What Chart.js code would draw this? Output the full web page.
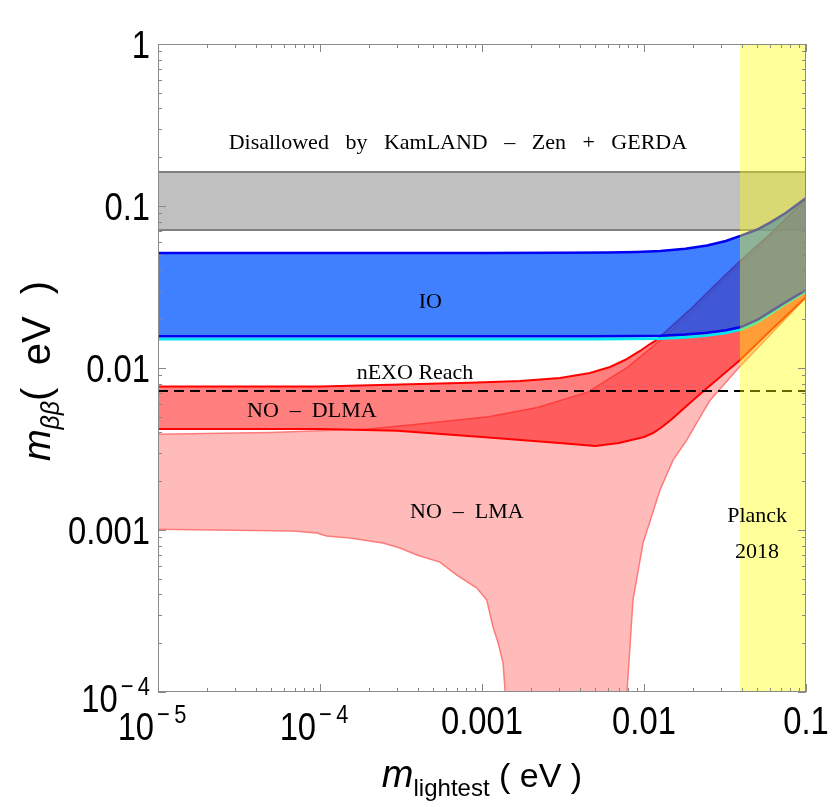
<!DOCTYPE html>
<html><head><meta charset="utf-8">
<script src="https://cdn.jsdelivr.net/npm/chart.js@4.4.1/dist/chart.umd.min.js"></script>
<style>html,body{margin:0;padding:0;background:#fff;}canvas{display:block}</style>
</head><body>
<canvas id="c" width="834" height="807"></canvas>
<script>
// ---------- tick labels ('^' marks a superscript) ----------
const xTickValues = [1e-5, 1e-4, 1e-3, 1e-2, 1e-1];
const xTickLabels = ['10^−\u20095', '10^−\u20094', '0.001', '0.01', '0.1'];
const yTickValues = [1e-4, 1e-3, 1e-2, 1e-1, 1];
const yTickLabels = ['10^−\u20094', '0.001', '0.01', '0.1', '1'];

// ---------- KamLAND-Zen + GERDA excluded band ----------
const kzX = [1e-5, 0.1];
const kzUpper = [0.162, 0.162];
const kzLower = [0.071, 0.071];

// ---------- Inverted ordering band ----------
const ioUpperX = [1e-5, 1e-4, 0.001, 0.003, 0.006, 0.009, 0.0126, 0.018, 0.0245, 0.032, 0.0397, 0.05, 0.06, 0.075, 0.1];
const ioUpperY = [0.0513, 0.0513, 0.0513, 0.0514, 0.0516, 0.052, 0.0527, 0.0545, 0.0571, 0.0608, 0.0656, 0.0716, 0.079, 0.0905, 0.112];
const ioLowerX = [1e-5, 1e-4, 0.001, 0.005, 0.0126, 0.018, 0.0245, 0.032, 0.0397, 0.05, 0.06, 0.075, 0.1];
const ioLowerY = [0.0157, 0.0157, 0.0157, 0.0157, 0.0158, 0.0161, 0.0165, 0.0171, 0.0179, 0.0198, 0.0222, 0.0255, 0.0303];
const ioCyanY  = [0.0151, 0.0151, 0.0151, 0.0151, 0.0152, 0.0155, 0.0159, 0.0165, 0.0173, 0.0192, 0.0216, 0.0250, 0.0298];

// ---------- Normal ordering, dark-LMA ----------
const dlmaUpperX = [1e-5, 1e-4, 0.00084, 0.00172, 0.00303, 0.00464, 0.00617, 0.00763, 0.00945, 0.01089, 0.012, 0.02, 0.03, 0.039, 0.06, 0.1];
const dlmaUpperY = [0.0077, 0.0077, 0.0081, 0.00832, 0.00867, 0.00931, 0.01014, 0.0112, 0.01274, 0.01406, 0.0149, 0.0237, 0.0353, 0.0454, 0.0667, 0.11];
const dlmaLowerX = [1e-5, 1e-4, 3e-4, 0.001, 0.003, 0.005, 0.007, 0.01, 0.01137, 0.01291, 0.01489, 0.0169, 0.0192, 0.0222, 0.0295, 0.0392, 0.06, 0.1];
const dlmaLowerY = [0.0042, 0.0042, 0.0041, 0.00375, 0.00344, 0.0033, 0.00344, 0.00375, 0.00397, 0.00432, 0.00484, 0.00543, 0.00608, 0.00691, 0.00879, 0.0112, 0.0169, 0.0274];

// ---------- Normal ordering, LMA ----------
const lmaUpperX = [1e-5, 5e-5, 1e-4, 2e-4, 4e-4, 0.0011, 0.0022, 0.0045, 0.0079, 0.0131, 0.02, 0.03, 0.039, 0.06, 0.1];
const lmaUpperY = [0.0039, 0.0040, 0.0041, 0.0042, 0.0045, 0.0050, 0.0057, 0.0071, 0.0101, 0.0153, 0.0225, 0.0337, 0.0432, 0.064, 0.101];
const lmaLowerX = [1e-5, 6.8e-5, 9.6e-5, 1.1e-4, 1.53e-4, 2.45e-4, 3.12e-4, 3.97e-4, 5.5e-4, 7.0e-4, 9.3e-4, 1.07e-3, 1.17e-3, 1.26e-3, 1.35e-3, 1.39e-3, 1.42e-3, 7.75e-3, 7.85e-3, 8.55e-3, 9.86e-3, 0.01256, 0.0151, 0.0184, 0.0222, 0.0255, 0.039, 0.06, 0.1];
const lmaLowerY = [0.00101, 0.000986, 0.000957, 0.000918, 0.000893, 0.000832, 0.000774, 0.000701, 0.000634, 0.000527, 0.000438, 0.00037, 0.000252, 0.0002, 0.000151, 0.0001, 1e-6, 1e-6, 0.0001, 0.00037, 0.00083, 0.00177, 0.0027, 0.0036, 0.005, 0.0063, 0.0102, 0.016, 0.0274];

// ---------- nEXO reach ----------
const nexoX = [1e-5, 0.1];
const nexoY = [0.0072, 0.0072];

// ---------- Planck 2018 ----------
const planckX = [0.039, 0.1];
const planckTop = [1, 1];
const planckBottom = [1e-4, 1e-4];

const pts = (xs, ys) => xs.map((v, i) => ({x: v, y: ys[i]}));

const base = {pointRadius: 0, pointHoverRadius: 0, tension: 0, borderWidth: 0, fill: false};

const datasets = [
  {...base, label: 'KZ upper', data: pts(kzX, kzUpper), borderColor: '#808080', borderWidth: 2, fill: 1, backgroundColor: '#c0c0c0', order: 20},
  {...base, label: 'KZ lower', data: pts(kzX, kzLower), borderColor: '#808080', borderWidth: 2, order: 19},
  {...base, label: 'LMA upper', data: pts(lmaUpperX, lmaUpperY), borderColor: '#ff7a7a', borderWidth: 1.5, fill: 3, backgroundColor: 'rgba(255,0,0,0.27)', order: 18},
  {...base, label: 'LMA lower', data: pts(lmaLowerX, lmaLowerY), borderColor: '#ff7a7a', borderWidth: 1.5, order: 17},
  {...base, label: 'DLMA upper', data: pts(dlmaUpperX, dlmaUpperY), borderColor: '#ff0000', borderWidth: 2, fill: 5, backgroundColor: 'rgba(255,0,0,0.5)', order: 16},
  {...base, label: 'DLMA lower', data: pts(dlmaLowerX, dlmaLowerY), borderColor: '#ff0000', borderWidth: 2, order: 15},
  {...base, label: 'nEXO', data: pts(nexoX, nexoY), borderColor: '#000000', borderWidth: 2, borderDash: [10, 6], order: 14},
  {...base, label: 'IO cyan', data: pts(ioLowerX, ioCyanY), borderColor: '#00e8f0', borderWidth: 3, order: 13},
  {...base, label: 'IO upper', data: pts(ioUpperX, ioUpperY), borderColor: '#0000f0', borderWidth: 2.5, fill: 9, backgroundColor: 'rgba(0,86,255,0.75)', order: 12},
  {...base, label: 'IO lower', data: pts(ioLowerX, ioLowerY), borderColor: '#0000f0', borderWidth: 2.5, order: 11},
  {...base, label: 'Planck top', data: pts(planckX, planckTop), borderColor: 'rgba(0,0,0,0)', fill: 11, backgroundColor: 'rgba(255,255,0,0.4)', order: 10},
  {...base, label: 'Planck bottom', data: pts(planckX, planckBottom), borderColor: 'rgba(0,0,0,0)', order: 9}
];

const textLabels = [
  {t: 'Disallowed   by   KamLAND   –   Zen   +   GERDA', x: 7.1e-4, y: 0.245},
  {t: 'IO', x: 4.8e-4, y: 0.0255},
  {t: 'nEXO Reach', x: 3.86e-4, y: 0.0093},
  {t: 'NO  –  DLMA', x: 8.9e-5, y: 0.00543},
  {t: 'NO  –  LMA', x: 8.07e-4, y: 0.00129},
  {t: 'Planck', x: 0.0499, y: 0.00122},
  {t: '2018', x: 0.0499, y: 0.00073}
];

const HS = 0.84; // horizontal squeeze of tick-label glyphs
const TF = '"Liberation Sans"';

function drawTickLabel(ctx, label, px, baseline, align) {
  const [b, e] = label.split('^');
  ctx.font = '39px ' + TF;
  const wb = ctx.measureText(b).width * HS;
  let we = 0;
  if (e) { ctx.font = '26px ' + TF; we = ctx.measureText(e).width * HS + 3; }
  const total = wb + we;
  let x0 = align === 'center' ? px - total / 2 - (e ? 6 : 0) : px - total;
  ctx.save();
  ctx.translate(x0, baseline + (e ? 6 : 0));
  ctx.scale(HS, 1);
  ctx.font = '39px ' + TF;
  ctx.fillText(b, 0, 0);
  if (e) { ctx.font = '26px ' + TF; ctx.fillText(e, (wb + 3) / HS, -17); }
  ctx.restore();
}

const decor = {
  id: 'decor',
  afterDatasetsDraw(chart) {
    const {ctx, chartArea: a, scales: {x, y}} = chart;
    ctx.save();
    // in-plot ticks
    ctx.strokeStyle = '#888';
    ctx.lineWidth = 1;
    ctx.beginPath();
    for (let e = -5; e <= 0; e++) {
      for (let k = 1; k <= 9; k++) {
        const v = k * Math.pow(10, e);
        const L = k === 1 ? 8 : 4;
        if (v >= x.min * 0.999 && v <= x.max * 1.001) {
          const px = Math.round(x.getPixelForValue(v)) + 0.5;
          ctx.moveTo(px, a.bottom); ctx.lineTo(px, a.bottom - L);
          ctx.moveTo(px, a.top); ctx.lineTo(px, a.top + L);
        }
        if (v >= y.min * 0.999 && v <= y.max * 1.001) {
          const py = Math.round(y.getPixelForValue(v)) + 0.5;
          ctx.moveTo(a.left, py); ctx.lineTo(a.left + L, py);
          ctx.moveTo(a.right, py); ctx.lineTo(a.right - L, py);
        }
      }
    }
    ctx.stroke();
    ctx.strokeStyle = '#8a8a8a';
    ctx.strokeRect(a.left + 0.5, a.top + 0.5, a.right - a.left - 1, a.bottom - a.top - 1);

    // tick labels
    ctx.fillStyle = '#000';
    ctx.textAlign = 'left';
    ctx.textBaseline = 'alphabetic';
    xTickValues.forEach((v, i) => drawTickLabel(ctx, xTickLabels[i], x.getPixelForValue(v), a.bottom + 42, 'center'));
    yTickValues.forEach((v, i) => drawTickLabel(ctx, yTickLabels[i], a.left - 8, y.getPixelForValue(v) + 14, 'right'));

    // text labels inside plot
    ctx.font = '22px "Liberation Serif"';
    ctx.textAlign = 'center';
    ctx.textBaseline = 'middle';
    textLabels.forEach(l => ctx.fillText(l.t, x.getPixelForValue(l.x), y.getPixelForValue(l.y)));

    // axis titles
    const drawTitle = (parts, cx, baseY) => {
      let w = 0;
      parts.forEach(p => { ctx.font = p.f; p.w = ctx.measureText(p.t).width; w += p.w; });
      let px = cx - w / 2;
      ctx.textAlign = 'left';
      ctx.textBaseline = 'alphabetic';
      parts.forEach(p => { ctx.font = p.f; ctx.fillText(p.t, px, baseY + (p.dy || 0)); px += p.w; });
    };
    drawTitle([
      {t: 'm', f: 'italic 38px "Liberation Sans"'},
      {t: 'lightest', f: '24px "Liberation Sans"', dy: 9},
      {t: ' ( eV )', f: '34px "Liberation Sans"'}
    ], (a.left + a.right) / 2, 787);
    ctx.save();
    ctx.translate(50, 371);
    ctx.rotate(-Math.PI / 2);
    drawTitle([
      {t: 'm', f: 'italic 38px "Liberation Sans"'},
      {t: 'ββ', f: 'italic 25px "Liberation Sans"', dy: 9},
      {t: '(  eV  )', f: '40px "Liberation Sans"'}
    ], 0, 0);
    ctx.restore();
    ctx.restore();
  }
};

new Chart(document.getElementById('c'), {
  type: 'line',
  data: {datasets},
  options: {
    responsive: false,
    animation: false,
    devicePixelRatio: 1,
    layout: {padding: {top: 44, right: 28, left: 0, bottom: 0}},
    plugins: {legend: {display: false}, tooltip: {enabled: false}, filler: {propagate: false}},
    scales: {
      x: {
        type: 'logarithmic', min: 1e-5, max: 0.1,
        grid: {display: false, drawTicks: false}, border: {display: false},
        ticks: {display: false},
        afterFit: s => { s.height = 115; s.paddingLeft = 0; s.paddingRight = 0; }
      },
      y: {
        type: 'logarithmic', min: 1e-4, max: 1,
        grid: {display: false, drawTicks: false}, border: {display: false},
        ticks: {display: false},
        afterFit: s => { s.width = 158; s.paddingTop = 0; s.paddingBottom = 0; }
      }
    }
  },
  plugins: [decor]
});
</script>
</body></html>
